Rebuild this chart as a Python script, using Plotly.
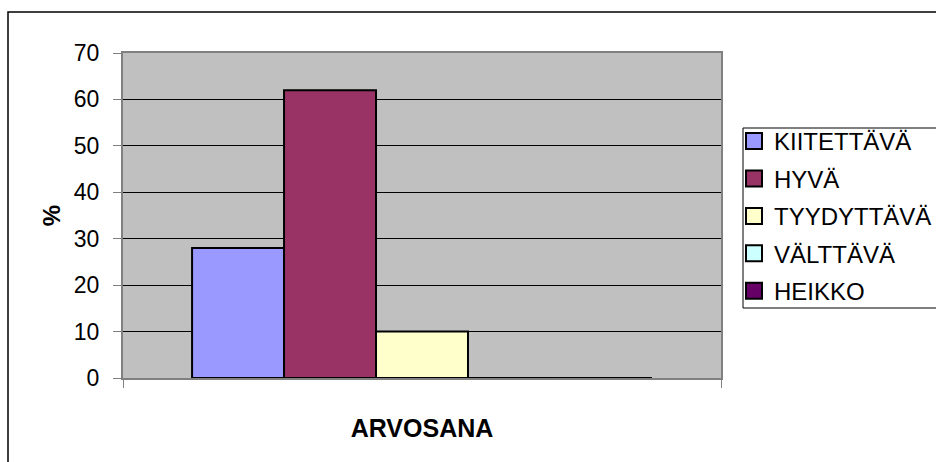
import plotly.graph_objects as go

categories = ["ARVOSANA"]
series_names = ["KIITETTÄVÄ", "HYVÄ", "TYYDYTTÄVÄ", "VÄLTTÄVÄ", "HEIKKO"]
series_values = [28, 62, 10, 0, 0]
series_colors = ["#9999FF", "#993366", "#FFFFCC", "#CCFFFF", "#660066"]
y_ticks = [0, 10, 20, 30, 40, 50, 60, 70]

FONT = "Arial, Liberation Sans, sans-serif"
W, H = 936, 462
# plot area box in pixels
L, R, T, B = 123, 721, 53, 378

fig = go.Figure()
for name, val, col in zip(series_names, series_values, series_colors):
    fig.add_trace(go.Bar(
        x=[0], y=[val], name=name, legendgroup=name, showlegend=False,
        marker=dict(color=col, line=dict(color="black", width=2)),
    ))
# legend entries with larger square swatches
for name, col in zip(series_names, series_colors):
    fig.add_trace(go.Scatter(
        x=[None], y=[None], mode="markers", name=name, legendgroup=name,
        marker=dict(symbol="square", size=16, color=col, line=dict(color="black", width=2)),
    ))

pw, ph = R - L, B - T
def px(x):
    return (x - L) / pw
def py(y):
    return (B - y) / ph

fig.update_layout(
    width=W, height=H,
    margin=dict(l=L, r=W - R, t=T, b=H - B, pad=0, autoexpand=False),
    paper_bgcolor="white",
    plot_bgcolor="#C0C0C0",
    barmode="group",
    bargap=0.231,
    bargroupgap=0,
    font=dict(family=FONT, size=23, color="black"),
    showlegend=True,
    legend=dict(
        x=px(734), y=py(119), xanchor="left", yanchor="top",
        bgcolor="rgba(0,0,0,0)", borderwidth=0,
        font=dict(family=FONT, size=24, color="black"),
        traceorder="grouped", tracegroupgap=3.2,
        itemwidth=30, itemsizing="trace",
    ),
    xaxis=dict(
        type="linear", range=[-0.5, 0.5],
        tickvals=[-0.5, 0.5], showticklabels=False,
        ticks="outside", ticklen=8, tickcolor="#808080", tickwidth=1,
        showgrid=False, zeroline=False,
        showline=True, linecolor="#808080", linewidth=2, mirror=True,
        title=dict(text="<b>ARVOSANA</b>", font=dict(family=FONT, size=25), standoff=32),
    ),
    yaxis=dict(
        range=[0, 70], tickvals=y_ticks,
        ticks="outside", ticklen=8, tickcolor="#808080", tickwidth=1,
        ticklabelstandoff=9,
        showgrid=True, gridcolor="black", gridwidth=1,
        zeroline=False,
        showline=True, linecolor="#808080", linewidth=2, mirror=True,
        tickfont=dict(family=FONT, size=23),
        title=dict(text="<b>%</b>", font=dict(family=FONT, size=24), standoff=6),
    ),
    shapes=[
        # outer chart frame
        dict(type="rect", xref="paper", yref="paper",
             x0=px(8), y0=py(480), x1=px(960), y1=py(12),
             line=dict(color="black", width=1.5), fillcolor="rgba(0,0,0,0)",
             layer="below"),
        # legend box
        dict(type="rect", xref="paper", yref="paper",
             x0=px(743), y0=py(308), x1=px(960), y1=py(128),
             line=dict(color="black", width=1), fillcolor="white",
             layer="below"),
    ],
)

fig.write_html("out.html", config={"displayModeBar": False},
               post_script="document.body.style.margin='0';")
